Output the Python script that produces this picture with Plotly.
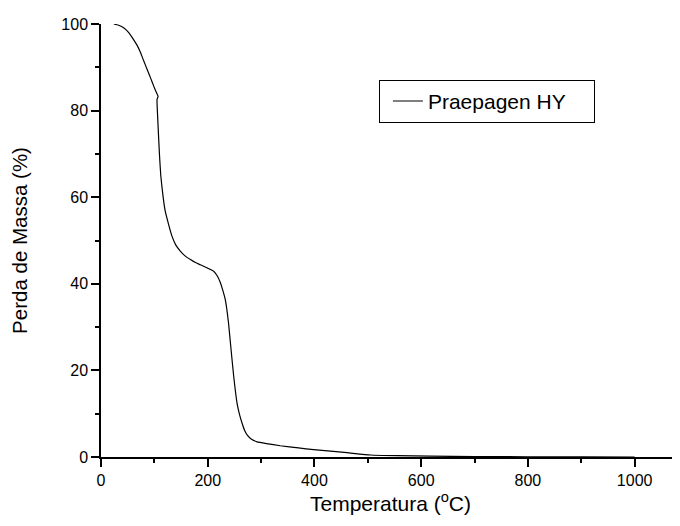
import plotly.graph_objects as go

temperature = [24, 33, 43, 52, 61, 68, 74, 80, 86.5, 93, 99, 103, 107,
               105, 106, 107.5, 109.5, 112, 115.5, 120, 126, 133, 140, 149,
               158, 167.6, 177, 186, 200, 211, 218, 223.6, 228, 233, 239, 243.8, 248.7, 255,
               260, 264.4, 269, 273.8, 282, 292.5, 310,
               336, 370, 398.5, 430, 461, 505, 555, 617, 700, 800, 900, 1000]
mass = [100, 99.7, 99.1, 98.0, 96.4, 95.0, 93.4, 91.5, 89.5, 87.5, 85.6, 84.4, 83.2,
        82.6, 79.0, 75.0, 70.0, 65.0, 61.0, 57.0, 54.0, 51.0, 49.0, 47.5,
        46.4, 45.6, 44.9, 44.4, 43.6, 42.9, 41.8, 40.3, 38.6, 36.3, 30.9, 24.7, 18.6, 12.4,
        9.6, 7.8, 6.2, 5.1, 4.1, 3.5, 3.1,
        2.6, 2.1, 1.7, 1.35, 1.0, 0.46, 0.3, 0.2, 0.1, 0.05, 0.02, 0.0]

series_name = "Praepagen HY"
x_ticks = [0, 200, 400, 600, 800, 1000]
y_ticks = [0, 20, 40, 60, 80, 100]

font_family = "Liberation Sans, Arial, sans-serif"

fig = go.Figure()
fig.add_trace(go.Scatter(x=temperature, y=mass, mode="lines", name=series_name,
                         line=dict(color="black", width=1.2, shape="spline", smoothing=0.4)))

fig.update_layout(
    width=672, height=518,
    margin=dict(l=92.5, r=0, t=16, b=69, autoexpand=False),
    paper_bgcolor="white", plot_bgcolor="white",
    font=dict(family=font_family, color="black"),
    showlegend=True,
    legend=dict(x=0.48, y=0.871, xanchor="left", yanchor="top",
                orientation="h", entrywidth=161, indentation=8,
                bordercolor="black", borderwidth=1, bgcolor="white",
                font=dict(size=21, family=font_family)),
    xaxis=dict(range=[0, 1085], tickvals=x_ticks, ticks="outside", ticklen=8, tickwidth=1.5,
               tickcolor="black", showline=True, linecolor="black", linewidth=1.5,
               showgrid=False, zeroline=False, tickfont=dict(size=16),
               minor=dict(dtick=100, tick0=0, ticks="outside", ticklen=4, tickwidth=1.5, tickcolor="black", showgrid=False),
               title=dict(text="Temperatura (<sup>o</sup>C)", font=dict(size=21), standoff=0)),
    yaxis=dict(range=[0, 100], tickvals=y_ticks, ticks="outside", ticklen=8, tickwidth=1.5,
               tickcolor="black", showline=True, linecolor="black", linewidth=1.5,
               showgrid=False, zeroline=False, tickfont=dict(size=16),
               minor=dict(dtick=10, tick0=0, ticks="outside", ticklen=4, tickwidth=1.5, tickcolor="black", showgrid=False),
               title=dict(text="Perda de Massa (%)", font=dict(size=20.5), standoff=28)),
)

fig.write_html("out.html")
